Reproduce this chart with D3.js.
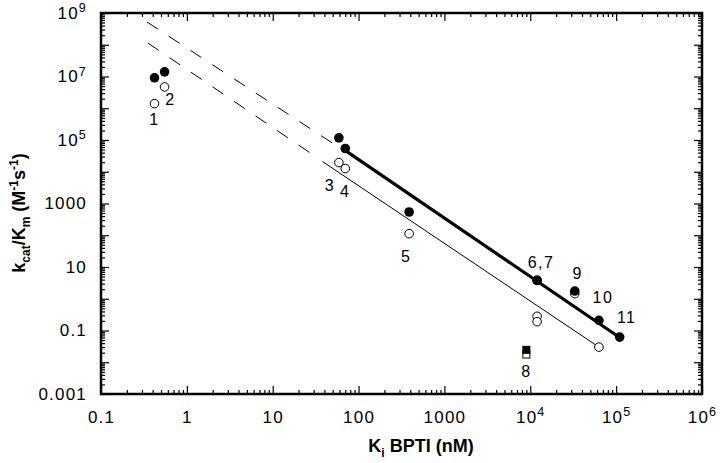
<!DOCTYPE html>
<meta charset="utf-8">
<head>
  <style>
    body { margin: 0; background: #fff; }
    svg { display: block; background: #fff; font-family: "Liberation Sans", Arial, Helvetica, sans-serif; }
    .tick text { font-size: 17px; fill: #000; letter-spacing: 1.2px; }
    .tick line { stroke: #000; stroke-width: 1.2; }
    .ptlabel { font-size: 16px; letter-spacing: 1.5px; fill: #000; }
    .title { font-size: 18px; font-weight: bold; fill: #000; }
  </style>
</head>
<body>
<script src="https://cdn.jsdelivr.net/npm/d3@7"></script>
<script>

// mutant data (Ki in nM, kcat/Km in M^-1 s^-1)
var mutantIds    = ["1", "2", "3", "4", "5", "6", "7", "9", "10", "11"];
var kiNM         = [0.42, 0.55, 59, 70, 388, 1.2e4, 1.2e4, 3.3e4, 6.3e4, 1.1e5];
var kcatKmFilled = [9.1e6, 1.4e7, 1.17e5, 5.4e4, 540, 3.8, 3.8, 1.75, 0.21, 0.062];
var kcatKmOpen   = [1.4e6, 4.7e6, 1.95e4, 1.26e4, 112, 0.28, 0.19, 1.45, 0.030, null];

// mutant 8 plotted as squares
var sqKi = [9.0e3];
var sqFilled = [0.0246];
var sqOpen = [0.0175];

// point labels
var labelText = ["1", "2", "3", "4", "5", "6,7", "8", "9", "10", "11"];
var labelKi   = [0.42, 0.55, 59, 70, 388, 1.2e4, 9.0e3, 3.3e4, 6.3e4, 1.1e5];
var labelAt   = [9.1e6, 1.4e7, 1.17e5, 5.4e4, 540, 3.8, 0.0246, 1.75, 0.21, 0.062];

// regression lines (solid part) and their dashed extrapolations
var thickLine = [[69, 4.8e4], [1.1e5, 0.06]];
var thinLine  = [[38, 2.1e4], [6.3e4, 0.030]];
var thickDash = [[0.343, 5.2e8], [50, 7.9e4]];
var thinDash  = [[0.352, 1.13e8], [27.8, 3.8e4]];

// axis ticks
var xTicks = [0.1, 1, 10, 100, 1000, 1e4, 1e5, 1e6];
var yTicks = [1e-3, 1e-2, 1e-1, 1, 10, 100, 1e3, 1e4, 1e5, 1e6, 1e7, 1e8, 1e9];
var yLabelled = [1e-3, 1e-1, 10, 1e3, 1e5, 1e7, 1e9];

var margin = {top: 13, right: 18, bottom: 69, left: 101},
    width = 720 - margin.left - margin.right,
    height = 463 - margin.top - margin.bottom;

var x = d3.scaleLog().domain([0.1, 1e6]).range([0, width]);
var y = d3.scaleLog().domain([1e-3, 1e9]).range([height, 0]);

var svg = d3.select("body").append("svg")
    .attr("width", 720)
    .attr("height", 463)
  .append("g")
    .attr("transform", "translate(" + margin.left + "," + margin.top + ")");

function minors(ticks) {
  var out = [];
  ticks.slice(0, -1).forEach(function(d) {
    for (var k = 2; k <= 9; k++) out.push(d * k);
  });
  return out;
}

function sciFormat(d, minExp) {
  var e = Math.round(Math.log10(d));
  if (e >= minExp) return null;
  if (e < 0) return d3.format("." + (-e) + "f")(d);
  return String(Math.round(d));
}

// swap placeholder labels for 10 with a raised exponent
function addSup(sel) {
  sel.selectAll(".tick text").each(function(d) {
    var e = Math.round(Math.log10(d));
    var t = d3.select(this);
    if (t.text() === "SUP") {
      t.text("10");
      t.append("tspan").attr("dy", "-0.55em").style("font-size", "12.5px").text(e);
    }
  });
}

// x axes
var xBottom = svg.append("g")
    .attr("transform", "translate(0," + height + ")")
    .call(d3.axisBottom(x).tickValues(xTicks).tickSizeInner(-8).tickSizeOuter(0).tickPadding(17)
      .tickFormat(function(d) { var s = sciFormat(d, 4); return s === null ? "SUP" : s; }));
addSup(xBottom);
svg.append("g")
    .attr("transform", "translate(0," + height + ")")
    .call(d3.axisBottom(x).tickValues(minors(xTicks)).tickSizeInner(-4).tickSizeOuter(0).tickFormat(""));
svg.append("g")
    .call(d3.axisTop(x).tickValues(xTicks).tickSizeInner(-8).tickSizeOuter(0).tickFormat(""));
svg.append("g")
    .call(d3.axisTop(x).tickValues(minors(xTicks)).tickSizeInner(-4).tickSizeOuter(0).tickFormat(""));

// y axes
var yLeft = svg.append("g")
    .call(d3.axisLeft(y).tickValues(yTicks).tickSizeInner(-8).tickSizeOuter(0).tickPadding(14)
      .tickFormat(function(d) {
        if (yLabelled.indexOf(d) < 0) return "";
        var s = sciFormat(d, 5); return s === null ? "SUP" : s;
      }));
addSup(yLeft);
svg.append("g")
    .call(d3.axisLeft(y).tickValues(minors(yTicks)).tickSizeInner(-4).tickSizeOuter(0).tickFormat(""));
svg.append("g")
    .attr("transform", "translate(" + width + ",0)")
    .call(d3.axisRight(y).tickValues(yTicks).tickSizeInner(-8).tickSizeOuter(0).tickFormat(""));
svg.append("g")
    .attr("transform", "translate(" + width + ",0)")
    .call(d3.axisRight(y).tickValues(minors(yTicks)).tickSizeInner(-4).tickSizeOuter(0).tickFormat(""));

svg.selectAll(".domain").remove();

// frame
svg.append("rect")
    .attr("width", width)
    .attr("height", height)
    .attr("fill", "none")
    .attr("stroke", "#000")
    .attr("stroke-width", 2.5);

// lines
var line = d3.line().x(function(d) { return x(d[0]); }).y(function(d) { return y(d[1]); });
svg.append("path").attr("d", line(thickDash)).attr("fill", "none")
    .attr("stroke", "#000").attr("stroke-width", 1).attr("stroke-dasharray", "13,13");
svg.append("path").attr("d", line(thinDash)).attr("fill", "none")
    .attr("stroke", "#000").attr("stroke-width", 1).attr("stroke-dasharray", "13,13");
svg.append("path").attr("d", line(thinLine)).attr("fill", "none")
    .attr("stroke", "#000").attr("stroke-width", 1);
svg.append("path").attr("d", line(thickLine)).attr("fill", "none")
    .attr("stroke", "#000").attr("stroke-width", 3.2);

// open circles first, filled ones drawn over them
var openPts = kiNM.map(function(k, i) { return {ki: k, v: kcatKmOpen[i]}; })
    .filter(function(d) { return d.v !== null; });
svg.selectAll(".open").data(openPts).enter().append("circle")
    .attr("class", "open")
    .attr("cx", function(d) { return x(d.ki); })
    .attr("cy", function(d) { return y(d.v); })
    .attr("r", 4.3)
    .attr("fill", "#fff").attr("stroke", "#000").attr("stroke-width", 1);

var filledPts = kiNM.map(function(k, i) { return {ki: k, v: kcatKmFilled[i]}; });
svg.selectAll(".filled").data(filledPts).enter().append("circle")
    .attr("class", "filled")
    .attr("cx", function(d) { return x(d.ki); })
    .attr("cy", function(d) { return y(d.v); })
    .attr("r", 4.8)
    .attr("fill", "#000");

// squares for mutant 8
svg.selectAll(".sqopen").data(sqKi).enter().append("rect")
    .attr("x", function(d) { return x(d) - 3.5; })
    .attr("y", function(d, i) { return y(sqOpen[i]) - 3.5; })
    .attr("width", 7).attr("height", 7)
    .attr("fill", "#fff").attr("stroke", "#000").attr("stroke-width", 1);
svg.selectAll(".sqfill").data(sqKi).enter().append("rect")
    .attr("x", function(d) { return x(d) - 4; })
    .attr("y", function(d, i) { return y(sqFilled[i]) - 4; })
    .attr("width", 8).attr("height", 8)
    .attr("fill", "#000");

// point labels, offset from their points
var labelDx = [0, 6, -9, 0, -3, 4, 0, 3, 4, 7];
var labelDy = [42, 28, 48, 43, 45, -18, 22, -18, -23, -20];
svg.selectAll(".ptlabel").data(labelText).enter().append("text")
    .attr("class", "ptlabel")
    .attr("x", function(d, i) { return x(labelKi[i]) + labelDx[i]; })
    .attr("y", function(d, i) { return y(labelAt[i]) + labelDy[i]; })
    .attr("text-anchor", "middle")
    .attr("dominant-baseline", "central")
    .text(function(d) { return d; });

// axis titles
var xt = svg.append("text")
    .attr("class", "title")
    .attr("x", 320)
    .attr("y", height + 58)
    .attr("text-anchor", "middle");
xt.append("tspan").text("K");
xt.append("tspan").attr("dy", 5).style("font-size", "12px").text("i");
xt.append("tspan").attr("dy", -5).text("  BPTI  (nM)");

var yt = svg.append("text")
    .attr("class", "title")
    .attr("transform", "translate(" + (25 - margin.left) + "," + 200 + ") rotate(-90)")
    .attr("text-anchor", "middle");
yt.append("tspan").text("k");
yt.append("tspan").attr("dy", 5).style("font-size", "12px").text("cat");
yt.append("tspan").attr("dy", -5).text("/K");
yt.append("tspan").attr("dy", 5).style("font-size", "12px").text("m");
yt.append("tspan").attr("dy", -5).text("  (M");
yt.append("tspan").attr("dy", -7).style("font-size", "12px").text("-1");
yt.append("tspan").attr("dy", 7).text("s");
yt.append("tspan").attr("dy", -7).style("font-size", "12px").text("-1");
yt.append("tspan").attr("dy", 7).text(")");

</script>
</body>
